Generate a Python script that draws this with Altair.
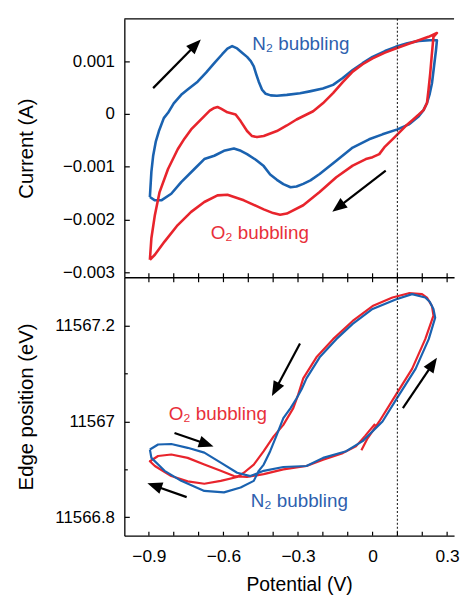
import math
import altair as alt
import pandas as pd

# ---------------- data ----------------
# Top panel: cyclic voltammograms, potential (V) and current (mA)
n2_cv_v = [-0.896, -0.890, -0.883, -0.872, -0.860, -0.840, -0.823, -0.800, -0.770, -0.744,
           -0.704, -0.670, -0.637, -0.605, -0.584, -0.565, -0.545, -0.525, -0.505, -0.490,
           -0.478, -0.468, -0.458, -0.445, -0.430, -0.410, -0.385, -0.345, -0.292, -0.253,
           -0.200, -0.159, -0.120, -0.080, -0.040, 0.0, 0.050, 0.093, 0.140, 0.186,
           0.230, 0.259, 0.255, 0.252, 0.246, 0.239, 0.230, 0.219, 0.205, 0.186,
           0.146, 0.100, 0.040, -0.014, -0.080, -0.146, -0.213, -0.250, -0.279, -0.306,
           -0.330, -0.359, -0.385, -0.412, -0.438, -0.470, -0.505, -0.530, -0.558, -0.598,
           -0.637, -0.677, -0.717, -0.770, -0.810, -0.850, -0.876, -0.896]
n2_cv_ma = [-1.576, -1.10, -0.80, -0.52, -0.33, -0.08, 0.02, 0.20, 0.36, 0.46,
            0.61, 0.78, 0.96, 1.13, 1.235, 1.285, 1.24, 1.16, 1.08, 1.00,
            0.90, 0.75, 0.61, 0.46, 0.38, 0.35, 0.343, 0.36, 0.39, 0.426,
            0.48, 0.55, 0.68, 0.83, 0.96, 1.08, 1.19, 1.27, 1.34, 1.383,
            1.395, 1.394, 1.20, 1.083, 0.85, 0.58, 0.38, 0.206, 0.07, -0.043,
            -0.20, -0.294, -0.388, -0.482, -0.638, -0.887, -1.139, -1.26, -1.326, -1.375,
            -1.39, -1.33, -1.25, -1.15, -0.99, -0.87, -0.763, -0.70, -0.657, -0.70,
            -0.794, -0.857, -1.045, -1.295, -1.514, -1.638, -1.638, -1.576]

o2_cv_v = [-0.896, -0.890, -0.876, -0.857, -0.823, -0.784, -0.757, -0.730, -0.700, -0.677,
           -0.655, -0.637, -0.624, -0.610, -0.584, -0.551, -0.531, -0.505, -0.485, -0.465,
           -0.438, -0.385, -0.345, -0.306, -0.239, -0.200, -0.159, -0.120, -0.080, -0.040,
           0.0, 0.050, 0.093, 0.140, 0.186, 0.225, 0.259, 0.245, 0.238, 0.232,
           0.225, 0.219, 0.205, 0.186, 0.160, 0.133, 0.080, 0.050, 0.027, 0.0,
           -0.027, -0.080, -0.146, -0.213, -0.279, -0.345, -0.372, -0.400, -0.438, -0.518,
           -0.584, -0.624, -0.677, -0.730, -0.784, -0.837, -0.876, -0.896]
o2_cv_ma = [-2.764, -2.358, -1.919, -1.482, -1.045, -0.670, -0.47, -0.295, -0.15, -0.043,
            0.06, 0.113, 0.13, 0.10, 0.03, -0.01, -0.137, -0.325, -0.42, -0.44,
            -0.418, -0.325, -0.22, -0.107, 0.05, 0.20, 0.394, 0.60, 0.80, 0.94,
            1.05, 1.16, 1.238, 1.32, 1.394, 1.46, 1.532, 1.457, 1.10, 0.769,
            0.45, 0.206, 0.07, -0.013, -0.12, -0.231, -0.482, -0.62, -0.763, -0.82,
            -0.857, -0.981, -1.20, -1.482, -1.732, -1.889, -1.91, -1.88, -1.81, -1.638,
            -1.532, -1.545, -1.67, -1.857, -2.107, -2.42, -2.67, -2.764]

# Bottom panel: edge position (eV) versus potential (V)
n2_edge_v = [-0.896, -0.863, -0.810, -0.744, -0.677, -0.611, -0.545, -0.492, -0.438, -0.359,
             -0.266, -0.199, -0.106, -0.040, 0.040, 0.106, 0.173, 0.226, 0.252, 0.245,
             0.230, 0.212, 0.159, 0.093, 0.0, -0.080, -0.146, -0.213, -0.266, -0.285,
             -0.306, -0.330, -0.359, -0.385, -0.412, -0.438, -0.458, -0.478, -0.531, -0.598,
             -0.677, -0.770, -0.837, -0.890, -0.896]
n2_edge_ev = [11566.9415, 11566.952, 11566.953, 11566.945, 11566.935, 11566.914, 11566.893, 11566.886, 11566.897, 11566.905,
              11566.907, 11566.924, 11566.938, 11566.959, 11567.000, 11567.055, 11567.110, 11567.172, 11567.217, 11567.235,
              11567.250, 11567.259, 11567.266, 11567.255, 11567.235, 11567.204, 11567.172, 11567.134, 11567.090, 11567.068,
              11567.048, 11567.028, 11567.007, 11566.9725, 11566.938, 11566.910, 11566.897, 11566.876, 11566.862, 11566.852,
              11566.855, 11566.876, 11566.897, 11566.924, 11566.9415]

o2_edge_v = [-0.045, -0.020, 0.027, 0.093, 0.159, 0.212, 0.245, 0.239, 0.220, 0.199,
             0.146, 0.080, 0.0, -0.080, -0.159, -0.226, -0.279, -0.300, -0.319, -0.359,
             -0.398, -0.438, -0.478, -0.518, -0.545, -0.611, -0.677, -0.744, -0.810, -0.876,
             -0.896, -0.863, -0.810, -0.744, -0.677, -0.611, -0.558, -0.505, -0.438, -0.359,
             -0.266, -0.199, -0.120, -0.067, -0.030, 0.010]
o2_edge_ev = [11566.940, 11566.965, 11567.000, 11567.055, 11567.110, 11567.172, 11567.221, 11567.241, 11567.258, 11567.266,
              11567.268, 11567.259, 11567.241, 11567.210, 11567.172, 11567.134, 11567.090, 11567.055, 11567.028, 11566.993,
              11566.969, 11566.938, 11566.910, 11566.893, 11566.884, 11566.876, 11566.870, 11566.875, 11566.886, 11566.907,
              11566.917, 11566.928, 11566.931, 11566.924, 11566.910, 11566.897, 11566.886, 11566.884, 11566.890, 11566.900,
              11566.907, 11566.920, 11566.934, 11566.948, 11566.970, 11566.995]

# Annotations
marker_potential = [0.1]
top_label_text = ["N\u2082 bubbling", "O\u2082 bubbling"]
top_label_v = [-0.289, -0.454]
top_label_ma = [1.323, -2.251]
bot_label_text = ["O\u2082 bubbling", "N\u2082 bubbling"]
bot_label_v = [-0.623, -0.295]
bot_label_ev = [11567.016, 11566.833]

top_arrow_v0 = [-0.883, 0.053]
top_arrow_ma0 = [0.488, -1.075]
top_arrow_v1 = [-0.691, -0.162]
top_arrow_ma1 = [1.407, -1.857]
bot_arrow_v0 = [-0.292, 0.122, -0.797, -0.748]
bot_arrow_ev0 = [11567.163, 11567.028, 11566.976, 11566.842]
bot_arrow_v1 = [-0.405, 0.259, -0.640, -0.906]
bot_arrow_ev1 = [11567.053, 11567.133, 11566.948, 11566.871]

x_ticks = [-0.9, -0.8, -0.7, -0.6, -0.5, -0.4, -0.3, -0.2, -0.1, 0.0, 0.1, 0.2, 0.3]
x_labels = [-0.9, -0.6, -0.3, 0.0, 0.3]
top_ticks = [-0.003, -0.0025, -0.002, -0.0015, -0.001, -0.0005, 0.0, 0.0005, 0.001, 0.0015]
bot_ticks = [11566.8, 11566.85, 11566.9, 11566.95, 11567.0, 11567.05, 11567.1, 11567.15, 11567.2, 11567.25]

# ---------------- styling / layout ----------------
BLUE = "#1a62b0"
RED = "#e8242c"
BLUE_TXT = "#2e5fae"
RED_TXT = "#e8303a"
FONT = "Liberation Sans"

W = 333
H_TOP = 261
H_BOT = 261
X_DOM = [-0.9988, 0.3279]
TOP_DOM = [-0.003096, 0.001801]
BOT_DOM = [11566.7615, 11567.3013]
HEAD_LEN = 15.0
TICK = 4

SX = W / (X_DOM[1] - X_DOM[0])
SY_TOP = H_TOP / (TOP_DOM[1] - TOP_DOM[0])
SY_BOT = H_BOT / (BOT_DOM[1] - BOT_DOM[0])

xs = alt.Scale(domain=X_DOM, nice=False, zero=False)
ys_top = alt.Scale(domain=TOP_DOM, nice=False, zero=False)
ys_bot = alt.Scale(domain=BOT_DOM, nice=False, zero=False)

TOP_MAJOR = "abs(datum.value*1000 - round(datum.value*1000)) < 1e-6"
BOT_MAJOR = "abs(datum.value*5 - round(datum.value*5)) < 1e-6"


def curve_df(vs, ys, scale=1.0):
    return pd.DataFrame({"v": vs, "y": [y * scale for y in ys], "i": list(range(len(vs)))})


def arrows(v0, y0, v1, y1, sy):
    lines, heads = [], []
    for a, b, c, d in zip(v0, y0, v1, y1):
        dx = (c - a) * SX
        dy = -(d - b) * sy
        length = math.hypot(dx, dy)
        ang = math.degrees(math.atan2(dx, -dy)) % 360
        f = (HEAD_LEN * 0.6) / length
        lines.append({"v": a, "y": b, "v2": c - (c - a) * f, "y2": d - (d - b) * f})
        heads.append({"v": c, "y": d, "ang": ang})
    return pd.DataFrame(lines), pd.DataFrame(heads)


ARROW_SHAPE = "M0,0 L-0.4,1 L0.4,1 Z"


def panel(curves, labels, arrow_dfs, yscale, xaxis, yaxis, height, line_w, tick_spans, top_border=None):
    # Only the first layer carries the axis definitions; the others leave them unspecified.
    layers = []
    first = True
    for df, color in curves:
        if first:
            xe = alt.X("v:Q", scale=xs, axis=xaxis)
            ye = alt.Y("y:Q", scale=yscale, axis=yaxis)
        else:
            xe = alt.X("v:Q", scale=xs)
            ye = alt.Y("y:Q", scale=yscale)
        layers.append(
            alt.Chart(df).mark_line(color=color, strokeWidth=line_w, strokeJoin="round").encode(
                x=xe, y=ye, order=alt.Order("i:Q"),
            )
        )
        first = False
    layers.append(
        alt.Chart(pd.DataFrame({"v": marker_potential})).mark_rule(
            color="#333333", strokeWidth=1.2, strokeDash=[2, 2]
        ).encode(x=alt.X("v:Q", scale=xs))
    )
    # inward x tick marks (potential tick values)
    for a, b in tick_spans:
        layers.append(
            alt.Chart(pd.DataFrame({"v": x_ticks})).mark_rule(color="black", strokeWidth=1.2).encode(
                x=alt.X("v:Q", scale=xs), y=alt.value(a), y2=alt.value(b)
            )
        )
    if top_border is not None:
        layers.append(
            alt.Chart(pd.DataFrame({"y": top_border})).mark_rule(color="black", strokeWidth=1.3)
            .encode(y=alt.Y("y:Q", scale=yscale))
        )
    for df, color in labels:
        layers.append(
            alt.Chart(df).mark_text(font=FONT, fontSize=19, color=color, align="center", baseline="middle").encode(
                x=alt.X("v:Q", scale=xs),
                y=alt.Y("y:Q", scale=yscale),
                text="t:N",
            )
        )
    ldf, hdf = arrow_dfs
    layers.append(
        alt.Chart(ldf).mark_rule(color="black", strokeWidth=2.2).encode(
            x=alt.X("v:Q", scale=xs), y=alt.Y("y:Q", scale=yscale),
            x2="v2:Q", y2="y2:Q",
        )
    )
    layers.append(
        alt.Chart(hdf).mark_point(shape=ARROW_SHAPE, filled=True, size=900, color="black", opacity=1, strokeWidth=0).encode(
            x=alt.X("v:Q", scale=xs), y=alt.Y("y:Q", scale=yscale),
            angle=alt.Angle("ang:Q", scale=None),
        )
    )
    return alt.layer(*layers).properties(width=W, height=height)


top_x_axis = alt.Axis(values=x_labels, labels=False, title=None, ticks=False, domain=True, grid=False)
top_y_axis = alt.Axis(values=top_ticks, title="Current (A)", labelExpr=f"{TOP_MAJOR} ? format(datum.value, '~g') : ''",
                      ticks=False, domain=True, grid=True, labelPadding=10, labelOverlap=False,
                      gridDash={"condition": {"test": TOP_MAJOR, "value": [5, 3000]}, "value": [3, 3000]},
                      titleX=-93, titleY=H_TOP / 2, titleAngle=270, titleBaseline="alphabetic", titleAlign="center")
bot_x_axis = alt.Axis(values=x_labels, format="~g", title="Potential (V)",
                      ticks=False, domain=True, grid=False, labelPadding=12, labelOverlap=False,
                      labelFontSize=17.5, titleFontSize=19.5,
                      titleX=176.5, titleY=55, titleBaseline="alphabetic", titleAlign="center")
bot_y_axis = alt.Axis(values=bot_ticks, title="Edge position (eV)", labelExpr=f"{BOT_MAJOR} ? format(datum.value, '~f') : ''",
                      ticks=False, domain=True, grid=True, labelPadding=10, labelOverlap=False,
                      gridDash={"condition": {"test": BOT_MAJOR, "value": [5, 3000]}, "value": [3, 3000]},
                      titleX=-93, titleY=H_BOT / 2, titleAngle=270, titleBaseline="alphabetic", titleAlign="center")

top_curves = [(curve_df(n2_cv_v, n2_cv_ma, 1e-3), BLUE), (curve_df(o2_cv_v, o2_cv_ma, 1e-3), RED)]
top_labels = [
    (pd.DataFrame({"v": [top_label_v[0]], "y": [top_label_ma[0] * 1e-3], "t": [top_label_text[0]]}), BLUE_TXT),
    (pd.DataFrame({"v": [top_label_v[1]], "y": [top_label_ma[1] * 1e-3], "t": [top_label_text[1]]}), RED_TXT),
]
top_arrows = arrows(top_arrow_v0, [m * 1e-3 for m in top_arrow_ma0],
                    top_arrow_v1, [m * 1e-3 for m in top_arrow_ma1], SY_TOP)

bot_curves = [(curve_df(o2_edge_v, o2_edge_ev), RED), (curve_df(n2_edge_v, n2_edge_ev), BLUE)]
bot_labels = [
    (pd.DataFrame({"v": [bot_label_v[0]], "y": [bot_label_ev[0]], "t": [bot_label_text[0]]}), RED_TXT),
    (pd.DataFrame({"v": [bot_label_v[1]], "y": [bot_label_ev[1]], "t": [bot_label_text[1]]}), BLUE_TXT),
]
bot_arrows = arrows(bot_arrow_v0, bot_arrow_ev0, bot_arrow_v1, bot_arrow_ev1, SY_BOT)

top = panel(top_curves, top_labels, top_arrows, ys_top, top_x_axis, top_y_axis, H_TOP, 2.6,
            tick_spans=[(H_TOP - TICK, H_TOP)], top_border=[TOP_DOM[1]])
bottom = panel(bot_curves, bot_labels, bot_arrows, ys_bot, bot_x_axis, bot_y_axis, H_BOT, 2.2,
               tick_spans=[(0, TICK + 1), (H_BOT - TICK, H_BOT)])

chart = alt.vconcat(top, bottom, spacing=0, bounds="flush").properties(
    padding={"left": 8.5, "top": 7, "right": 0, "bottom": 0}
).configure_view(
    strokeWidth=0
).configure_axis(
    labelFont=FONT, labelFontSize=17, labelColor="black",
    titleFont=FONT, titleFontSize=20.5, titleFontWeight="normal", titleColor="black",
    gridColor="black", gridOpacity=1, gridWidth=1.2,
    domainColor="black", domainWidth=1.3,
)

chart.save("out.html", embed_options={"renderer": "svg", "actions": False})
